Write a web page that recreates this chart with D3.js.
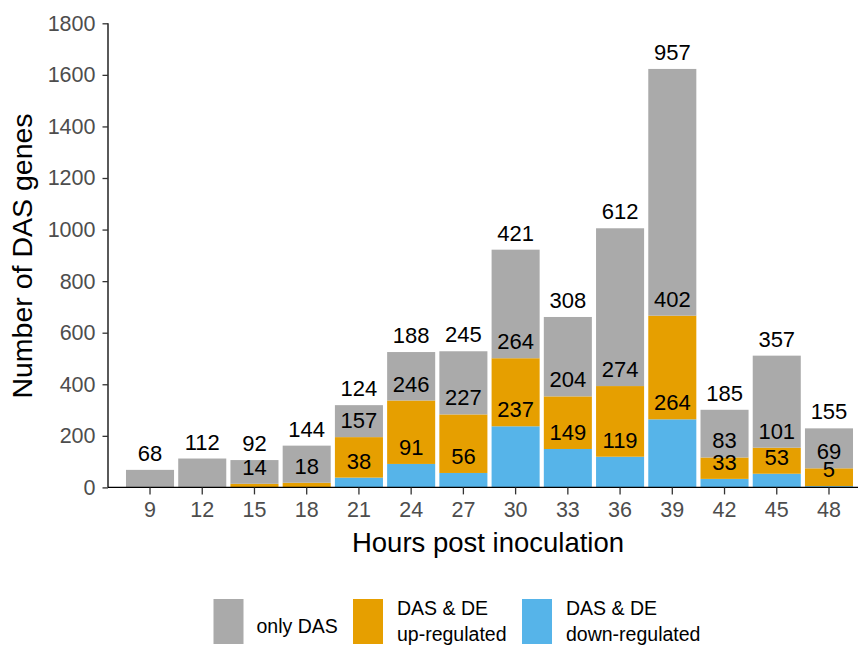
<!DOCTYPE html>
<html>
<head>
<meta charset="utf-8">
<script src="https://cdn.jsdelivr.net/npm/d3@7"></script>
<style>
  html, body { margin: 0; padding: 0; background: #fff; }
  svg { display: block; font-family: "Liberation Sans", Arial, sans-serif; }
</style>
</head>
<body>
<svg id="chart" width="858" height="647"></svg>
<script>
// Hours post inoculation (x categories)
const hours = [9, 12, 15, 18, 21, 24, 27, 30, 33, 36, 39, 42, 45, 48];
// Gene counts per group at each time point
const onlyDAS = [68, 112, 92, 144, 124, 188, 245, 421, 308, 612, 957, 185, 357, 155];
const upRegulated = [0, 0, 14, 18, 157, 246, 227, 264, 204, 274, 402, 83, 101, 69];
const downRegulated = [0, 0, 0, 0, 38, 91, 56, 237, 149, 119, 264, 33, 53, 5];
// Y axis ticks
const yTicks = [0, 200, 400, 600, 800, 1000, 1200, 1400, 1600, 1800];

// Series in stacking order (bottom to top) with legend labels
const seriesKeys = ["down", "up", "only"];
const seriesColors = { only: "#aaaaaa", up: "#e69f00", down: "#56b4e9" };
const legendItems = [
  { key: "only", lines: ["only DAS"] },
  { key: "up", lines: ["DAS & DE", "up-regulated"] },
  { key: "down", lines: ["DAS & DE", "down-regulated"] }
];

const table = hours.map((h, i) => ({
  hour: String(h),
  only: onlyDAS[i],
  up: upRegulated[i],
  down: downRegulated[i]
}));

const svg = d3.select("#chart");

const x = d3.scaleBand()
  .domain(hours.map(String))
  .range([123.9, 855.1])
  .paddingInner(0.08)
  .paddingOuter(0.04);

const y = d3.scaleLinear()
  .domain([0, 1800])
  .range([487.4, 23.3]);

const stacked = d3.stack().keys(seriesKeys)(table);

// Bars
const layers = svg.append("g")
  .selectAll("g")
  .data(stacked)
  .join("g")
  .attr("fill", d => seriesColors[d.key]);

layers.selectAll("rect")
  .data(d => d.map(s => ({ s, key: d.key })))
  .join("rect")
  .attr("x", d => x(d.s.data.hour))
  .attr("width", x.bandwidth())
  .attr("y", d => y(d.s[1]))
  .attr("height", d => y(d.s[0]) - y(d.s[1]));

// Value labels, sitting just above the top of each segment
const labelData = [];
stacked.forEach(layer => {
  layer.forEach(s => {
    const v = s.data[layer.key];
    if (v > 0) labelData.push({ hour: s.data.hour, top: s[1], value: v });
  });
});

svg.append("g")
  .selectAll("text")
  .data(labelData)
  .join("text")
  .attr("x", d => x(d.hour) + x.bandwidth() / 2)
  .attr("y", d => y(d.top) - 9)
  .attr("text-anchor", "middle")
  .attr("font-size", 22)
  .attr("fill", "#000")
  .text(d => d.value);

// Y axis
const yAxis = svg.append("g")
  .attr("transform", "translate(108,0)")
  .call(d3.axisLeft(y).tickValues(yTicks).tickSize(5.5).tickPadding(7).tickFormat(d3.format("d")));
yAxis.select(".domain").attr("stroke", "#000").attr("stroke-width", 1.3).attr("d", `M0,${y(1800)}V${y(0)}`);
yAxis.selectAll(".tick line").attr("stroke", "#333").attr("stroke-width", 1.3);
yAxis.selectAll(".tick text").attr("font-size", 21.5).attr("fill", "#4d4d4d").attr("font-family", "Liberation Sans, Arial, sans-serif");

// X axis
const xAxis = svg.append("g")
  .attr("transform", `translate(0,${y(0)})`)
  .call(d3.axisBottom(x).tickSize(7).tickPadding(7));
xAxis.select(".domain").attr("stroke", "#000").attr("stroke-width", 1.3).attr("d", "M108,0H858");
xAxis.selectAll(".tick line").attr("stroke", "#333").attr("stroke-width", 1.3);
xAxis.selectAll(".tick text").attr("font-size", 21.5).attr("fill", "#4d4d4d").attr("font-family", "Liberation Sans, Arial, sans-serif");

// Axis titles
svg.append("text")
  .attr("x", 488)
  .attr("y", 552)
  .attr("text-anchor", "middle")
  .attr("font-size", 27.5)
  .attr("fill", "#000")
  .text("Hours post inoculation");

svg.append("text")
  .attr("transform", "translate(32,256) rotate(-90)")
  .attr("text-anchor", "middle")
  .attr("font-size", 28.5)
  .attr("fill", "#000")
  .text("Number of DAS genes");

// Legend
const legendX = { only: 213.5, up: 353, down: 522 };
const legend = svg.append("g");
legendItems.forEach(item => {
  const gx = legendX[item.key];
  legend.append("rect")
    .attr("x", gx)
    .attr("y", 599)
    .attr("width", 30)
    .attr("height", 45)
    .attr("fill", seriesColors[item.key]);
  const t = legend.append("text")
    .attr("font-size", 19.5)
    .attr("fill", "#000");
  if (item.lines.length === 1) {
    t.append("tspan").attr("x", gx + 43).attr("y", 633).text(item.lines[0]);
  } else {
    item.lines.forEach((ln, j) => {
      t.append("tspan").attr("x", gx + 44).attr("y", 615 + j * 25.5).text(ln);
    });
  }
});
</script>
</body>
</html>
